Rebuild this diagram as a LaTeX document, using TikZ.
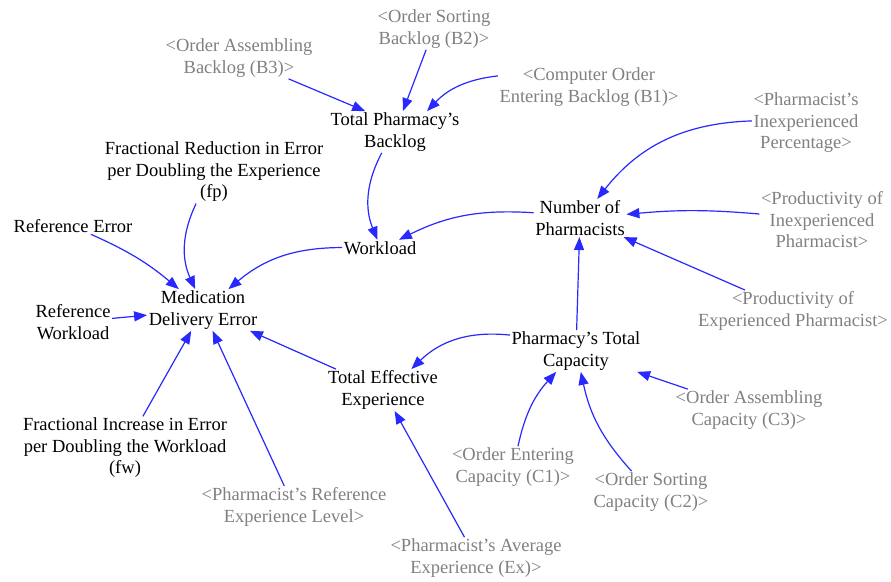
\documentclass[tikz,border=0pt]{standalone}
\usepackage{fontspec}
\setmainfont{Liberation Serif}
\usetikzlibrary{arrows.meta}
\definecolor{shadowgray}{RGB}{128,128,128}
\definecolor{linkblue}{RGB}{40,40,255}

\begin{document}
\begin{tikzpicture}[x=10pt, y=10pt,
    var/.style={align=center, font=\fontsize{18.5}{21.5}\selectfont, inner sep=1.5pt},
    shadow/.style={var, text=shadowgray},
    link/.style={draw=linkblue, line width=1.2pt, -{Triangle[length=13pt, width=10pt]}}]

    \useasboundingbox (0,0) rectangle (89.1,-58.1);

    \node[shadow] (B2) at (43.4, -2.9) {<Order Sorting\\Backlog (B2)>};
    \node[shadow] (B3) at (23.9, -5.8) {<Order Assembling\\Backlog (B3)>};
    \node[shadow] (B1) at (58.9, -8.7) {<Computer Order\\Entering Backlog (B1)>};
    \node[var] (TPB) at (39.5, -13.2) {Total Pharmacy's\\Backlog};
    \node[shadow] (IP) at (80.6, -12.3) {<Pharmacist's\\Inexperienced\\Percentage>};
    \node[var] (NP) at (58.0, -21.8) {Number of\\Pharmacists};
    \node[shadow] (PI) at (82.2, -22.0) {<Productivity of\\Inexperienced\\Pharmacist>};
    \node[shadow] (PE) at (79.3, -31.1) {<Productivity of\\Experienced Pharmacist>};
    \node[var] (WL) at (38.0, -24.8) {Workload};
    \node[var] (FP) at (21.4, -17.2) {Fractional Reduction in Error\\per Doubling the Experience\\(fp)};
    \node[var] (RE) at (7.3, -22.6) {Reference Error};
    \node[var] (MDE) at (20.3, -31.0) {Medication\\Delivery Error};
    \node[var] (RW) at (7.3, -32.2) {Reference\\Workload};
    \node[var] (FW) at (12.5, -44.8) {Fractional Increase in Error\\per Doubling the Workload\\(fw)};
    \node[shadow] (REL) at (29.4, -50.7) {<Pharmacist's Reference\\Experience Level>};
    \node[var] (TEE) at (38.3, -39.0) {Total Effective\\Experience};
    \node[var] (PTC) at (57.6, -35.1) {Pharmacy's Total\\Capacity};
    \node[shadow] (C1) at (51.3, -46.7) {<Order Entering\\Capacity (C1)>};
    \node[shadow] (C2) at (65.1, -49.2) {<Order Sorting\\Capacity (C2)>};
    \node[shadow] (C3) at (74.9, -41.0) {<Order Assembling\\Capacity (C3)>};
    \node[shadow] (EX) at (47.6, -55.8) {<Pharmacist's Average\\Experience (Ex)>};

    \draw[link] (B3) -- (TPB.145);
    \draw[link] (B2) -- (TPB);
    \draw[link] (B1) to[bend right=20] (TPB);
    \draw[link] (TPB) to[bend right=25] (WL);
    \draw[link] (NP) to[bend right=15] (WL);
    \draw[link] (WL) to[bend right=20] (MDE);
    \draw[link] (IP) to[bend right=25] (NP);
    \draw[link] (PI) to[bend right=5] (NP);
    \draw[link] (PE) -- (NP);
    \draw[link] (PTC) -- (NP);
    \draw[link] (PTC) to[bend right=25] (TEE);
    \draw[link] (TEE) -- (MDE);
    \draw[link] (EX) -- (TEE);
    \draw[link] (REL) -- (MDE);
    \draw[link] (FW) -- (MDE);
    \draw[link] (RW) -- (MDE);
    \draw[link] (RE) to[bend left=8] (MDE);
    \draw[link] (FP) to[bend right=25] (MDE);
    \draw[link] (C1) to[bend left=15] (PTC);
    \draw[link] (C2) to[bend left=15] (PTC);
    \draw[link] (C3) -- (PTC);
  \end{tikzpicture}
\end{document}
